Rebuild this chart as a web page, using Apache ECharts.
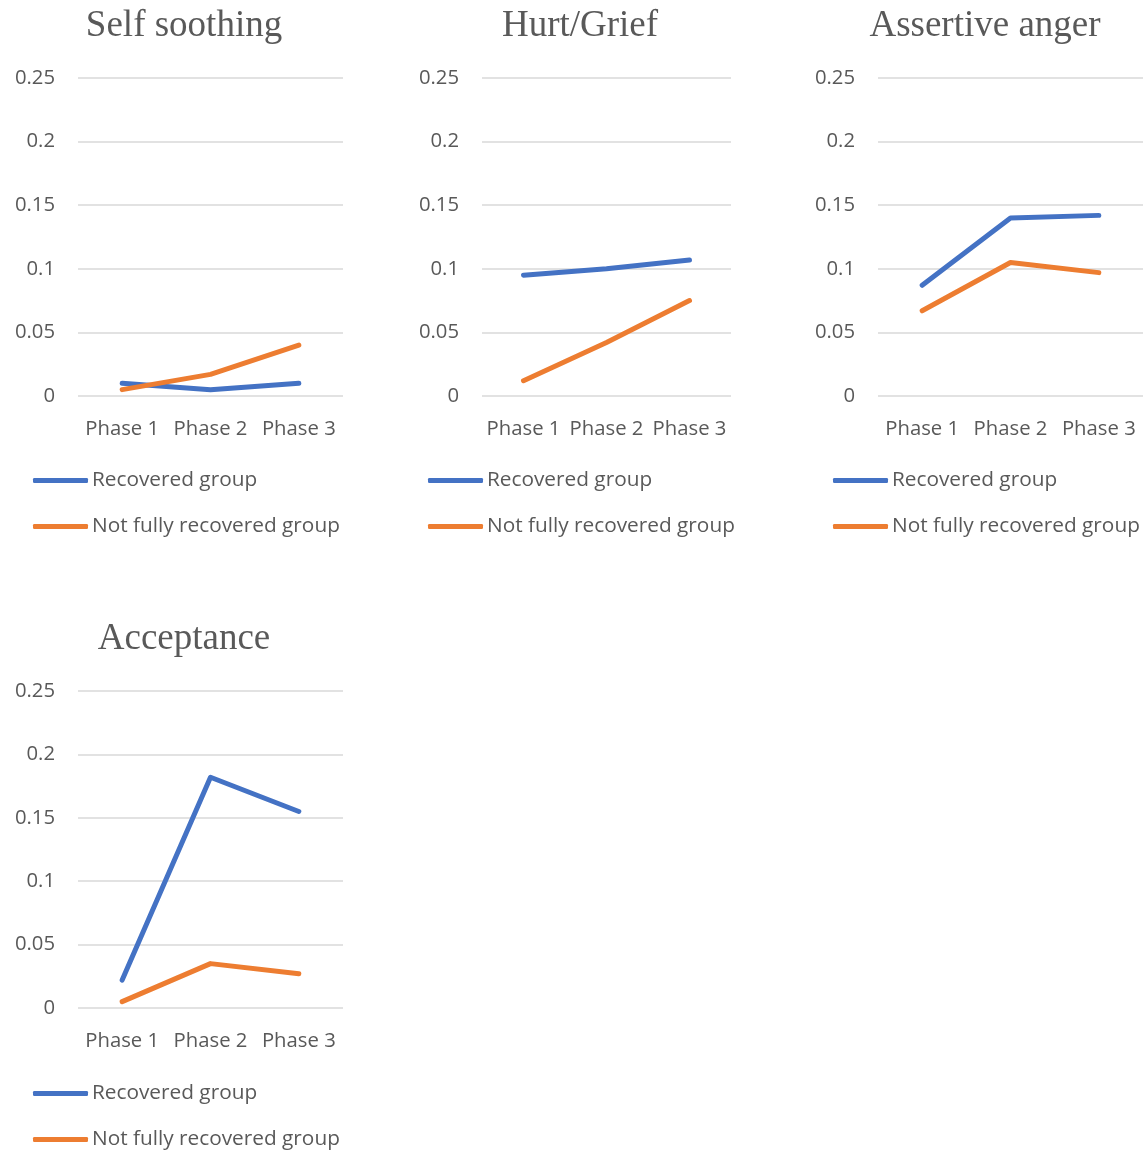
<!DOCTYPE html>
<html>
<head>
<meta charset="utf-8">
<style>
  html, body { margin: 0; padding: 0; background: #ffffff; }
  #chart { width: 1148px; height: 1151px; }
</style>
<script src="https://cdn.jsdelivr.net/npm/echarts@6/dist/echarts.min.js"></script>
</head>
<body>
<div id="chart"></div>
<script>
// Phases on the category axis
const phases = ['Phase 1', 'Phase 2', 'Phase 3'];
// Y axis ticks
const yTicks = [0, 0.05, 0.1, 0.15, 0.2, 0.25];

const seriesNames = ['Recovered group', 'Not fully recovered group'];

// Self soothing
const selfSoothingRecovered = [0.010, 0.005, 0.010];
const selfSoothingNotRecovered = [0.005, 0.017, 0.040];
// Hurt/Grief
const hurtGriefRecovered = [0.095, 0.100, 0.107];
const hurtGriefNotRecovered = [0.012, 0.042, 0.075];
// Assertive anger
const assertiveAngerRecovered = [0.087, 0.140, 0.142];
const assertiveAngerNotRecovered = [0.067, 0.105, 0.097];
// Acceptance
const acceptanceRecovered = [0.022, 0.182, 0.155];
const acceptanceNotRecovered = [0.005, 0.035, 0.027];

const titles = ['Self soothing', 'Hurt/Grief', 'Assertive anger', 'Acceptance'];
const panelData = [
  [selfSoothingRecovered, selfSoothingNotRecovered],
  [hurtGriefRecovered, hurtGriefNotRecovered],
  [assertiveAngerRecovered, assertiveAngerNotRecovered],
  [acceptanceRecovered, acceptanceNotRecovered]
];

// Panel placement (plot area in pixels)
const panels = [
  { left: 78, width: 265, top: 78, height: 318, titleX: 184, titleY: 26, legendLeft: 33, legendTop: 470 },
  { left: 482, width: 249, top: 78, height: 318, titleX: 580, titleY: 26, legendLeft: 428, legendTop: 470 },
  { left: 878, width: 265, top: 78, height: 318, titleX: 985, titleY: 26, legendLeft: 833, legendTop: 470 },
  { left: 78, width: 265, top: 691, height: 317, titleX: 184, titleY: 639, legendLeft: 33, legendTop: 1083 }
];

const colors = ['#4472C4', '#ED7D31'];
const textGray = '#595959';
const labelFont = '"Open Sans", "Noto Sans", sans-serif';

const option = {
  animation: false,
  backgroundColor: '#ffffff',
  color: colors,
  title: panels.map((p, i) => ({
    text: titles[i],
    left: p.titleX,
    top: p.titleY,
    textAlign: 'center',
    textVerticalAlign: 'middle',
    padding: 0,
    textStyle: {
      fontFamily: '"Liberation Serif", "DejaVu Serif", serif',
      fontSize: 37,
      fontWeight: 'normal',
      color: textGray
    }
  })),
  legend: panels.map(p => ({
    orient: 'vertical',
    left: p.legendLeft,
    top: p.legendTop,
    padding: 0,
    itemWidth: 55,
    itemHeight: 5,
    itemGap: 25,
    icon: 'roundRect',
    selectedMode: false,
    data: seriesNames,
    textStyle: {
      fontFamily: labelFont,
      fontSize: 20.8,
      lineHeight: 20,
      color: textGray,
      padding: [0, 0, 0, -1]
    }
  })),
  grid: panels.map(p => ({
    left: p.left,
    top: p.top,
    width: p.width,
    height: p.height,
    containLabel: false
  })),
  xAxis: panels.map((p, i) => ({
    type: 'category',
    gridIndex: i,
    data: phases,
    boundaryGap: true,
    axisLine: { show: false },
    axisTick: { show: false },
    axisLabel: {
      margin: 23,
      fontFamily: labelFont,
      fontSize: 20.3,
      color: textGray,
      interval: 0
    }
  })),
  yAxis: panels.map((p, i) => ({
    type: 'value',
    gridIndex: i,
    min: yTicks[0],
    max: yTicks[yTicks.length - 1],
    interval: yTicks[1] - yTicks[0],
    axisLine: { show: false },
    axisTick: { show: false },
    axisLabel: {
      margin: 23,
      fontFamily: labelFont,
      fontSize: 20.3,
      color: textGray,
      formatter: v => String(Math.round(v * 100) / 100)
    },
    splitLine: { show: true, lineStyle: { color: '#d9d9d9', width: 1.5 } }
  })),
  series: []
};

panelData.forEach((pair, i) => {
  pair.forEach((values, s) => {
    option.series.push({
      name: seriesNames[s],
      type: 'line',
      xAxisIndex: i,
      yAxisIndex: i,
      data: values,
      showSymbol: false,
      symbol: 'none',
      lineStyle: { width: 5, color: colors[s], cap: 'round', join: 'round' },
      itemStyle: { color: colors[s] }
    });
  });
});

const chart = echarts.init(document.getElementById('chart'), null, { renderer: 'canvas' });
chart.setOption(option);
</script>
</body>
</html>
